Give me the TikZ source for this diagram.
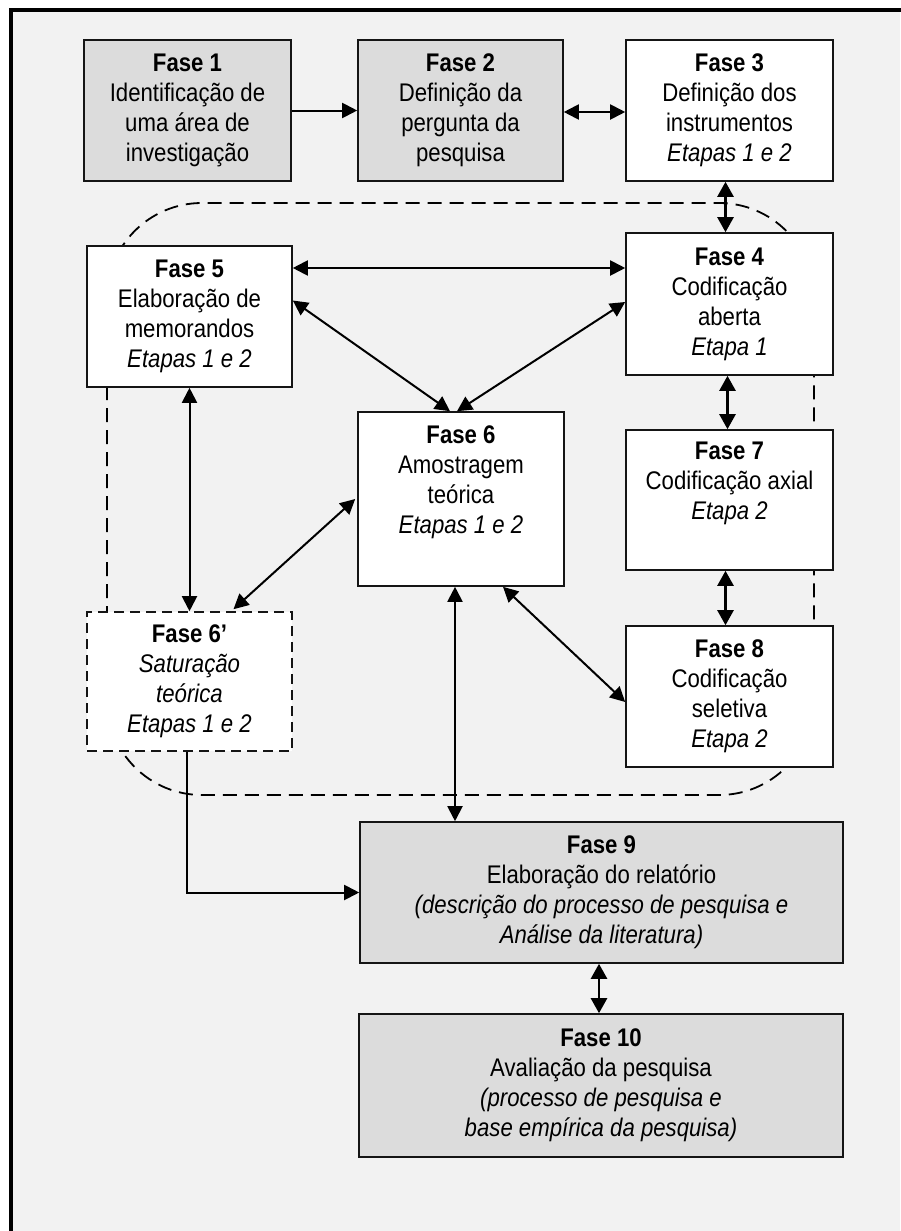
\documentclass[tikz,border=0pt]{standalone}
\usepackage{fontspec}
\setmainfont{Liberation Sans}[FakeStretch=0.87]
\usetikzlibrary{arrows.meta}
\definecolor{bggray}{HTML}{F2F2F2}
\definecolor{boxgray}{HTML}{DCDCDC}
\definecolor{edge}{HTML}{151515}
\begin{document}
\begin{tikzpicture}[x=1pt,y=-1pt,
  phase/.style={draw=edge, line width=1.6pt, fill=white, align=center, inner sep=0pt,
    font=\fontsize{25.5}{30}\selectfont, text=black},
  grayphase/.style={phase, fill=boxgray},
  dashphase/.style={phase, dash pattern=on 10pt off 6pt},
  arr/.style={line width=2pt, -{Triangle[length=15pt,width=15pt]}},
  darr/.style={line width=2pt, {Triangle[length=15pt,width=15pt]}-{Triangle[length=15pt,width=15pt]}},
  sdarr/.style={line width=2.5pt, {Triangle[length=15pt,width=16pt]}-{Triangle[length=15pt,width=16pt]}},
  loopline/.style={line width=1.8pt, dash pattern=on 14pt off 8pt}
]
\useasboundingbox (0,0) rectangle (900,1231);
\fill[white] (0,0) rectangle (900,1231);
\fill[bggray] (10.5,10.5) rectangle (900,1231);
\draw[line width=4pt, line cap=rect] (10.5,1231) -- (10.5,10.5) -- (900,10.5);

% dashed loop
\draw[loopline, rounded corners=95pt] (107,203) rectangle (814,795);

% boxes
\node[grayphase, minimum width=207pt, minimum height=141pt] (F1) at (187.5,110.5)
  {\textbf{Fase 1}\\Identificação de\\uma área de\\investigação};
\node[grayphase, minimum width=205pt, minimum height=141pt] (F2) at (460.5,110.5)
  {\textbf{Fase 2}\\Definição da\\pergunta da\\pesquisa};
\node[phase, minimum width=207pt, minimum height=141pt] (F3) at (729.5,110.5)
  {\textbf{Fase 3}\\Definição dos\\instrumentos\\\textit{Etapas 1 e 2}};
\node[phase, minimum width=207pt, minimum height=142pt] (F4) at (729.5,304)
  {\textbf{Fase 4}\\Codificação\\aberta\\\textit{Etapa 1}};
\node[phase, minimum width=205pt, minimum height=141pt] (F5) at (189.5,316.5)
  {\textbf{Fase 5}\\Elaboração de\\memorandos\\\textit{Etapas 1 e 2}};
\node[phase, minimum width=206pt, minimum height=174pt] (F6) at (461,499)
  {\textbf{Fase 6}\\Amostragem\\teórica\\\textit{Etapas 1 e 2}\\\strut};
\node[phase, minimum width=207pt, minimum height=140pt] (F7) at (729.5,500)
  {\textbf{Fase 7}\\Codificação axial\\\textit{Etapa 2}\\\strut};
\node[phase, minimum width=207pt, minimum height=141pt] (F8) at (729.5,696.5)
  {\textbf{Fase 8}\\Codificação\\seletiva\\\textit{Etapa 2}};
\node[dashphase, minimum width=205pt, minimum height=139pt] (F6p) at (189.5,681.5)
  {\textbf{Fase 6’}\\\textit{Saturação}\\\textit{teórica}\\\textit{Etapas 1 e 2}};
\node[grayphase, minimum width=483pt, minimum height=141pt] (F9) at (601.5,892.5)
  {\textbf{Fase 9}\\Elaboração do relatório\\\textit{(descrição do processo de pesquisa e}\\\textit{Análise da literatura)}};
\node[grayphase, minimum width=484pt, minimum height=143pt] (F10) at (601,1085.5)
  {\textbf{Fase 10}\\Avaliação da pesquisa\\\textit{(processo de pesquisa e}\\\textit{base empírica da pesquisa)}};

% connectors
\draw[arr] (F1.east) -- (F2.west);
\draw[darr] ([yshift=-1.5pt]F2.east) -- ([yshift=-1.5pt]F3.west);
\draw[sdarr] ([xshift=-4pt]F3.south) -- ([xshift=-4pt]F4.north);
\draw[darr] ([yshift=48.5pt]F5.east) -- ([yshift=36pt]F4.west);
\draw[darr] ([yshift=16pt]F5.east) -- ([xshift=-11pt]F6.north);
\draw[darr] ([yshift=2pt]F4.west) -- ([xshift=-4pt]F6.north);
\draw[sdarr] ([xshift=-2pt]F4.south) -- ([xshift=-2pt]F7.north);
\draw[sdarr] ([xshift=-4pt]F7.south) -- ([xshift=-4pt]F8.north);
\draw[darr] (F5.south) -- (F6p.north);
\draw[darr] ([xshift=44pt,yshift=2pt]F6p.north) -- ([xshift=-2pt]F6.west);
\draw[darr] ([xshift=42pt]F6.south) -- ([yshift=-5.5pt]F8.west);
\draw[darr] ([xshift=-6pt]F6.south) -- ([xshift=-6pt]F6.south |- F9.north);
\draw[arr] ([xshift=-2.5pt]F6p.south) |- (F9.west);
\draw[sdarr] ([xshift=-2.5pt]F9.south) -- ([xshift=-2.5pt]F9.south |- F10.north);
\end{tikzpicture}
\end{document}
